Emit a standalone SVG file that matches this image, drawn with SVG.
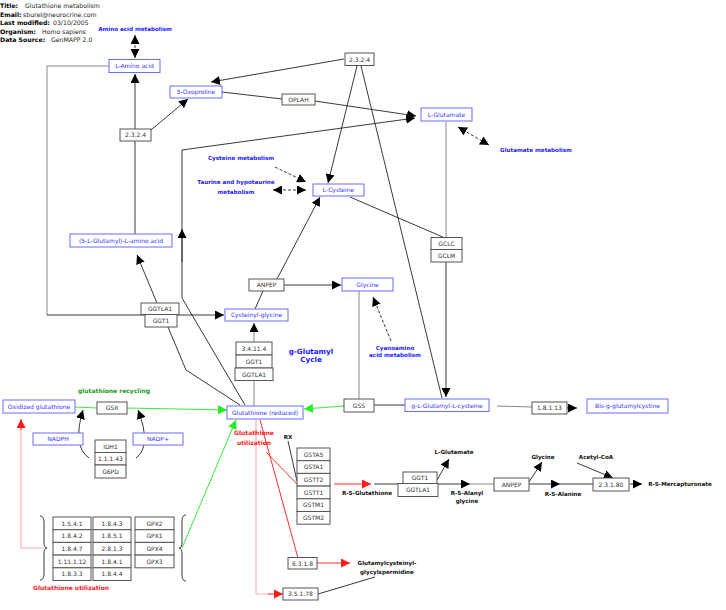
<svg xmlns="http://www.w3.org/2000/svg" width="726" height="610" viewBox="0 0 726 610">
<style>
text{font-family:"DejaVu Sans","Liberation Sans",sans-serif;font-size:6px}
.h{font-weight:bold;fill:#000;font-size:6.2px}
.hv{fill:#222;font-size:6.2px}
.g rect{fill:#fff;stroke:#555;stroke-width:1}
.g text{fill:#333;text-anchor:middle}
.m rect{fill:#fff;stroke:#6a6aff;stroke-width:1}
.m text{fill:#3434ff;text-anchor:middle}
.lb{font-weight:bold;fill:#1a1aff;text-anchor:middle;font-size:5.6px}
.big{font-size:7.2px}
.bl{font-weight:bold;fill:#111;text-anchor:middle;font-size:5.6px}
.rd{font-weight:bold;fill:#ff1a1a;text-anchor:middle;font-size:6px}
.gr{font-weight:bold;fill:#1a9a1a;text-anchor:middle;font-size:6px}
.c{fill:none;stroke:#222;stroke-width:0.9}
.cg{fill:none;stroke:#888;stroke-width:1}
.cd{fill:none;stroke:#222;stroke-width:0.9;stroke-dasharray:3,2}
.cG{fill:none;stroke:#33ee33;stroke-width:1}
.cR{fill:none;stroke:#ff3030;stroke-width:1}
.cP{fill:none;stroke:#ffb0b0;stroke-width:1.2}
</style>
<defs>
<marker id="a" viewBox="0 0 10 10" refX="10" refY="5" markerWidth="9" markerHeight="9" markerUnits="userSpaceOnUse" orient="auto"><path d="M0,0L10,5L0,10z" fill="#000"/></marker>
<marker id="as" viewBox="0 0 10 10" refX="10" refY="5" markerWidth="9" markerHeight="9" markerUnits="userSpaceOnUse" orient="auto-start-reverse"><path d="M0,0L10,5L0,10z" fill="#000"/></marker>
<marker id="ag" viewBox="0 0 10 10" refX="10" refY="5" markerWidth="9" markerHeight="9" markerUnits="userSpaceOnUse" orient="auto"><path d="M0,0L10,5L0,10z" fill="#22ee22"/></marker>
<marker id="ar" viewBox="0 0 10 10" refX="10" refY="5" markerWidth="9" markerHeight="9" markerUnits="userSpaceOnUse" orient="auto"><path d="M0,0L10,5L0,10z" fill="#ff1a1a"/></marker>
</defs>

<g id="header">
<text x="0" y="8" class="h">Title:</text><text x="25" y="8" class="hv">Glutathione metabolism</text>
<text x="0" y="16.5" class="h">Email:</text><text x="23" y="16.5" class="hv">sburel@neurocrine.com</text>
<text x="0" y="25" class="h">Last modified:</text><text x="53" y="25" class="hv">03/10/2005</text>
<text x="0" y="33.5" class="h">Organism:</text><text x="42" y="33.5" class="hv">Homo sapiens</text>
<text x="0" y="42" class="h">Data Source:</text><text x="51" y="42" class="hv">GenMAPP 2.0</text>
</g>

<g id="connectors">
<path class="cd" d="M135,35L135,58" marker-start="url(#as)" marker-end="url(#as)"/>
<path class="cd" d="M458,127L489,145" marker-start="url(#as)" marker-end="url(#as)"/>
<path class="cd" d="M275,167L306,182" marker-end="url(#a)"/>
<path class="cd" d="M273,190L306,190" marker-start="url(#as)" marker-end="url(#as)"/>
<path class="cd" d="M391,341L373,297" marker-end="url(#a)"/>
<path class="c" d="M344,59L211,82" marker-end="url(#a)"/>
<path class="c" d="M222,92L282,99"/>
<path class="c" d="M315,101L416,116" marker-end="url(#a)"/>
<path class="c" d="M357,66L328,183" marker-end="url(#a)"/>
<path class="c" stroke-width="1.3" d="M361,66L442,398"/>
<path class="c" d="M135,129L135,74" marker-end="url(#a)"/>
<path class="c" d="M151,130L188,99" marker-end="url(#a)"/>
<path class="c" d="M135,141L135,234"/>
<path class="cg" d="M109,66L47,66L47,315"/>
<path class="c" d="M47,315L224,315" marker-end="url(#a)"/>
<path class="c" d="M182,262L182,150L415,118" marker-end="url(#a)"/>
<path class="c" d="M245,405L182,298L182,229" marker-end="url(#a)"/>
<path class="c" d="M157,303L137,255" marker-end="url(#a)"/>
<path class="c" d="M168,327L186,370L240,405"/>
<path class="c" d="M255,309L263,291"/>
<path class="c" d="M277,279L320,197" marker-end="url(#a)"/>
<path class="c" d="M284,285L341,285" marker-end="url(#a)"/>
<path class="cg" stroke-width="1.6" d="M254,342L254,323" marker-end="url(#a)"/>
<path class="cg" stroke-width="1.6" d="M254,380L254,406"/>
<path class="cg" d="M359,291L359,399"/>
<path class="c" d="M350,197L445,238"/>
<path class="cg" d="M446,122L446,238"/>
<path class="c" d="M446,262L446,397" marker-end="url(#a)"/>
<path class="c" d="M374,405L405,405"/>
<path class="cg" d="M497,406L532,407"/>
<path class="c" d="M567,408L577,408" marker-end="url(#a)"/>
<path class="cG" stroke="#88ee88" d="M75,407L97,408"/>
<path class="cG" d="M127,408L227,410" marker-end="url(#ag)"/>
<path class="cG" d="M344,406L304,409" marker-end="url(#ag)"/>
<path class="cG" d="M182,548L236,420" marker-end="url(#ag)"/>
<path class="c" d="M89,458Q72,446 83,410" marker-end="url(#a)"/>
<path class="c" d="M136,458Q152,446 138,410" marker-end="url(#a)"/>
<path class="cP" d="M44,548L21,548L21,420"/>
<path class="cR" d="M21,430L21,419" marker-end="url(#ar)"/>
<path class="cP" d="M256,420L256,594L270,594"/>
<path class="cR" d="M268,594L283,594" marker-end="url(#ar)"/>
<path class="cR" d="M260,420L298,558"/>
<path class="cR" d="M266,452L297,484"/>
<path class="c" d="M288,441L297,481"/>
<path class="cR" d="M334,484L371,484" marker-end="url(#ar)"/>
<path class="cR" d="M317,563L350,563" marker-end="url(#ar)"/>
<path class="c" d="M318,594L375,577"/>
<path class="c" d="M374,484L398,484"/>
<path class="c" d="M438,484L470,484" marker-end="url(#a)"/>
<path class="cg" d="M470,484L494,484"/>
<path class="c" d="M437,480L449,459" marker-end="url(#a)"/>
<path class="c" d="M529,484L560,484" marker-end="url(#a)"/>
<path class="c" d="M560,484L593,484"/>
<path class="c" d="M529,482L542,462" marker-end="url(#a)"/>
<path class="c" d="M577,463L613,478" marker-end="url(#a)"/>
<path class="c" d="M630,484L642,484" marker-end="url(#a)"/>
<path class="c" stroke="#555" d="M40,516Q44,516 44,522L44,542Q44,548 47,548Q44,548 44,554L44,574Q44,580 40,580"/>
<path class="c" stroke="#555" d="M186,515Q182,515 182,521L182,542Q182,548 179,548Q182,548 182,554L182,575Q182,581 186,581"/>
</g>

<g id="labels">
<text x="135" y="31" class="lb">Amino acid metabolism</text>
<text x="536" y="152" class="lb">Glutamate metabolism</text>
<text x="241" y="160" class="lb">Cysteine metabolism</text>
<text x="236" y="184" class="lb">Taurine and hypotaurine</text>
<text x="236" y="194" class="lb">metabolism</text>
<text x="311" y="354" class="lb big">g-Glutamyl</text>
<text x="311" y="362" class="lb big">Cycle</text>
<text x="395" y="350" class="lb">Cyanoamino</text>
<text x="395" y="357" class="lb">acid metabolism</text>
<text x="114" y="393" class="gr">glutathione recycling</text>
<text x="254" y="435" class="rd">Glutathione</text>
<text x="254" y="445" class="rd">utilization</text>
<text x="71" y="590" class="rd">Glutathione utilization</text>
<text x="288" y="439" class="bl">RX</text>
<text x="367" y="495" class="bl">R-S-Glutathione</text>
<text x="454" y="454" class="bl">L-Glutamate</text>
<text x="467" y="495" class="bl">R-S-Alanyl</text>
<text x="467" y="503" class="bl">glycine</text>
<text x="543" y="459" class="bl">Glycine</text>
<text x="563" y="496" class="bl">R-S-Alanine</text>
<text x="596" y="459" class="bl">Acetyl-CoA</text>
<text x="680" y="486" class="bl">R-S-Mercapturonate</text>
<text x="387" y="565" class="bl">Glutamylcysteinyl-</text>
<text x="387" y="574" class="bl">glycylspermidine</text>
</g>

<g id="n-lamino" class="m"><rect x="109" y="59.5" width="51" height="13"/><text x="134.5" y="68">L-Amino acid</text></g>
<g id="n-oxoproline" class="m"><rect x="170" y="86" width="52" height="12"/><text x="196" y="94.2">5-Oxoproline</text></g>
<g id="n-oplah" class="g"><rect x="282" y="94" width="33" height="11"/><text x="298.5" y="101.8">OPLAH</text></g>
<g id="n-2324a" class="g"><rect x="345" y="53" width="29" height="12.5"/><text x="359.5" y="61.5">2.3.2.4</text></g>
<g id="n-2324b" class="g"><rect x="120" y="129" width="31" height="12"/><text x="135.5" y="137.3">2.3.2.4</text></g>
<g id="n-lglutamate" class="m"><rect x="421" y="108" width="51" height="13"/><text x="446.5" y="116.5">L-Glutamate</text></g>
<g id="n-lcysteine" class="m"><rect x="313" y="184" width="51" height="12"/><text x="338.5" y="192.2">L-Cysteine</text></g>
<g id="n-gclc" class="g"><rect x="431" y="237.5" width="31" height="12"/><text x="446.5" y="245.8">GCLC</text><rect x="431" y="249.5" width="31" height="12.5"/><text x="446.5" y="258">GCLM</text></g>
<g id="n-glutamylaa" class="m"><rect x="70" y="234" width="102" height="13"/><text x="121" y="242.5">(5-L-Glutamyl)-L-amino acid</text></g>
<g id="n-ggtla1a" class="g"><rect x="141" y="303" width="38" height="11.5"/><text x="160" y="311.3">GGTLA1</text><rect x="145" y="314.5" width="32" height="12.5"/><text x="161" y="323">GGT1</text></g>
<g id="n-cysgly" class="m"><rect x="225" y="309" width="63" height="12"/><text x="256.5" y="317.3">Cysteinyl-glycine</text></g>
<g id="n-anpep" class="g"><rect x="249" y="279" width="35" height="12"/><text x="266.5" y="287.3">ANPEP</text></g>
<g id="n-glycine" class="m"><rect x="342" y="278" width="51" height="13"/><text x="367.5" y="286.5">Glycine</text></g>
<g id="n-34114" class="g"><rect x="236" y="342" width="36" height="13"/><text x="254" y="350.5">3.4.11.4</text><rect x="236" y="355" width="36" height="13"/><text x="254" y="363.5">GGT1</text><rect x="235" y="368" width="38" height="12.5"/><text x="254" y="376.5">GGTLA1</text></g>
<g id="n-gsh" class="m"><rect x="227" y="406" width="76" height="13"/><text x="265" y="414.5">Glutathione (reduced)</text></g>
<g id="n-gss" class="g"><rect x="344" y="399" width="30" height="13"/><text x="359" y="407.5">GSS</text></g>
<g id="n-glucys" class="m"><rect x="405" y="399" width="84" height="12.5"/><text x="447" y="407.5">g-L-Glutamyl-L-cysteine</text></g>
<g id="n-18113" class="g"><rect x="532" y="402" width="35" height="12"/><text x="549.5" y="410.3">1.8.1.13</text></g>
<g id="n-bisg" class="m"><rect x="587" y="399" width="81" height="14"/><text x="627.5" y="408.3">Bis-g-glutamylcystine</text></g>
<g id="n-gssg" class="m"><rect x="3" y="400" width="72" height="13"/><text x="39" y="408.5">Oxidized glutathione</text></g>
<g id="n-gsr" class="g"><rect x="97" y="402" width="30" height="12"/><text x="112" y="410.3">GSR</text></g>
<g id="n-nadph" class="m"><rect x="33" y="433" width="50" height="12"/><text x="58" y="441.3">NADPH</text></g>
<g id="n-nadp" class="m"><rect x="133" y="433" width="50" height="12"/><text x="158" y="441.3">NADP+</text></g>
<g id="n-idh1" class="g"><rect x="95" y="440" width="31" height="12.5"/><text x="110.5" y="448.5">IDH1</text><rect x="95" y="452.5" width="31" height="12.5"/><text x="110.5" y="461">1.1.1.43</text><rect x="95" y="465" width="31" height="13"/><text x="110.5" y="473.5">G6PD</text></g>
<g id="n-gst" class="g">
<rect x="297" y="448" width="33" height="12.7"/><text x="313.5" y="456.6">GSTA5</text>
<rect x="297" y="460.7" width="33" height="12.7"/><text x="313.5" y="469.3">GSTA1</text>
<rect x="297" y="473.4" width="33" height="12.7"/><text x="313.5" y="482">GSTT2</text>
<rect x="297" y="486.1" width="33" height="12.7"/><text x="313.5" y="494.7">GSTT1</text>
<rect x="297" y="498.8" width="33" height="12.7"/><text x="313.5" y="507.4">GSTM1</text>
<rect x="297" y="511.5" width="33" height="12.7"/><text x="313.5" y="520.1">GSTM2</text>
</g>
<g id="n-ggt1b" class="g"><rect x="403" y="472" width="34" height="11.5"/><text x="420" y="480.3">GGT1</text><rect x="398" y="483.5" width="40" height="13"/><text x="418" y="492">GGTLA1</text></g>
<g id="n-anpep2" class="g"><rect x="494" y="478" width="35" height="13"/><text x="511.5" y="486.5">ANPEP</text></g>
<g id="n-23180" class="g"><rect x="593" y="478" width="36" height="13"/><text x="611" y="486.5">2.3.1.80</text></g>
<g id="n-6318" class="g"><rect x="288" y="557.5" width="29" height="11.5"/><text x="302.5" y="565.5">6.3.1.8</text></g>
<g id="n-35178" class="g"><rect x="283" y="588" width="35" height="12"/><text x="300.5" y="596.3">3.5.1.78</text></g>
<g id="n-table" class="g">
<rect x="53" y="517" width="38" height="12.7"/><text x="72" y="525.6">1.5.4.1</text>
<rect x="53" y="529.7" width="38" height="12.7"/><text x="72" y="538.3">1.8.4.2</text>
<rect x="53" y="542.4" width="38" height="12.7"/><text x="72" y="551">1.8.4.7</text>
<rect x="53" y="555.1" width="38" height="12.7"/><text x="72" y="563.7">1.11.1.12</text>
<rect x="53" y="567.8" width="38" height="12.7"/><text x="72" y="576.4">1.8.3.3</text>
<rect x="93" y="517" width="38" height="12.7"/><text x="112" y="525.6">1.8.4.3</text>
<rect x="93" y="529.7" width="38" height="12.7"/><text x="112" y="538.3">1.8.5.1</text>
<rect x="93" y="542.4" width="38" height="12.7"/><text x="112" y="551">2.8.1.3</text>
<rect x="93" y="555.1" width="38" height="12.7"/><text x="112" y="563.7">1.8.4.1</text>
<rect x="93" y="567.8" width="38" height="12.7"/><text x="112" y="576.4">1.8.4.4</text>
<rect x="135" y="517" width="39" height="12.7"/><text x="154.5" y="525.6">GPX2</text>
<rect x="135" y="529.7" width="39" height="12.7"/><text x="154.5" y="538.3">GPX1</text>
<rect x="135" y="542.4" width="39" height="12.7"/><text x="154.5" y="551">GPX4</text>
<rect x="135" y="555.1" width="39" height="12.7"/><text x="154.5" y="563.7">GPX3</text>
</g>
</svg>
